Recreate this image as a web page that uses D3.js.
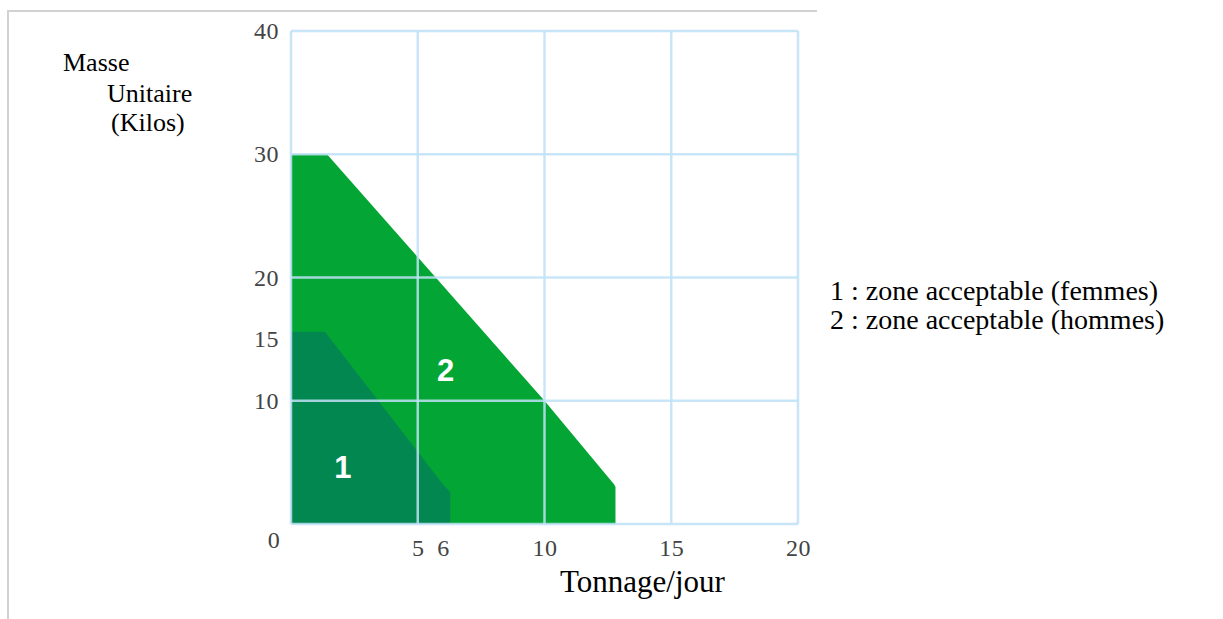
<!DOCTYPE html>
<html>
<head>
<meta charset="utf-8">
<script src="https://cdn.jsdelivr.net/npm/d3@7"></script>
<style>
  body { margin: 0; background: #fff; }
  svg { display: block; }
  .tick text { font-family: "Liberation Serif", serif; font-size: 24px; fill: #444; letter-spacing: 0.5px; }
  .title { font-family: "Liberation Serif", serif; fill: #000; }
  .zone-num { font-family: "Liberation Sans", Arial, sans-serif; font-weight: bold; font-size: 31px; fill: #fff; }
</style>
</head>
<body>
<svg width="1223" height="619"></svg>
<script>
// zones (tonnage/jour, masse unitaire en kilos)
var zoneHommes = [[0, 0], [0, 30], [1.42, 30], [10, 10], [12.75, 3.2], [12.8, 3], [12.8, 0]];
var zoneFemmes = [[0, 0], [0, 15.6], [1.34, 15.6], [6.0, 3.2], [6.28, 2.6], [6.28, 0]];

var xTicks = [5, 6, 10, 15, 20];
var yTicks = [10, 15, 20, 30, 40];
var xGrid = [0, 5, 10, 15, 20];
var yGrid = [0, 10, 20, 30, 40];

var zoneLabels = [
    { text: "2", x: 6.1, y: 12.5 },
    { text: "1", x: 2.05, y: 4.6 }
];
var legendLines = ["1 : zone acceptable (femmes)", "2 : zone acceptable (hommes)"];

var svg = d3.select("svg"),
    width = +svg.attr("width"),
    height = +svg.attr("height");

var x = d3.scaleLinear().domain([0, 20]).range([291, 798]);
var y = d3.scaleLinear().domain([0, 40]).range([524, 31]);

// grey page frame (top and left edges only)
svg.append("path")
    .attr("d", "M8,619V11H817")
    .attr("fill", "none")
    .attr("stroke", "#d2d2d2")
    .attr("stroke-width", 2);

var line = d3.line()
    .x(function (d) { return x(d[0]); })
    .y(function (d) { return y(d[1]); });

svg.append("path")
    .datum(zoneHommes)
    .attr("d", function (d) { return line(d) + "Z"; })
    .attr("fill", "#03a634");

svg.append("path")
    .datum(zoneFemmes)
    .attr("d", function (d) { return line(d) + "Z"; })
    .attr("fill", "#038751");

// light blue grid, drawn over the zones
var grid = svg.append("g")
    .attr("stroke", "#bfe2f7")
    .attr("stroke-width", 2.5)
    .attr("stroke-opacity", 0.85);

grid.selectAll(".v")
    .data(xGrid)
    .enter().append("line")
    .attr("x1", function (d) { return x(d); })
    .attr("x2", function (d) { return x(d); })
    .attr("y1", y(0))
    .attr("y2", y(40));

grid.selectAll(".h")
    .data(yGrid)
    .enter().append("line")
    .attr("y1", function (d) { return y(d); })
    .attr("y2", function (d) { return y(d); })
    .attr("x1", x(0))
    .attr("x2", x(20));

svg.selectAll(".zone-num")
    .data(zoneLabels)
    .enter().append("text")
    .attr("class", "zone-num")
    .attr("x", function (d) { return x(d.x); })
    .attr("y", function (d) { return y(d.y); })
    .attr("text-anchor", "middle")
    .attr("dy", "0.36em")
    .text(function (d) { return d.text; });

// axes: labels only
var xAxis = svg.append("g")
    .attr("transform", "translate(0," + y(0) + ")")
    .call(d3.axisBottom(x).tickValues(xTicks).tickSize(0).tickPadding(15).tickFormat(d3.format("d")));
xAxis.select(".domain").remove();

var yAxis = svg.append("g")
    .attr("transform", "translate(" + x(0) + ",0)")
    .call(d3.axisLeft(y).tickValues(yTicks).tickSize(0).tickPadding(12).tickFormat(d3.format("d")));
yAxis.select(".domain").remove();

// shared origin label
svg.append("g").attr("class", "tick")
    .append("text")
    .attr("x", x(0) - 17)
    .attr("y", y(0) + 24)
    .attr("text-anchor", "middle")
    .text("0");

svg.append("text").attr("class", "title")
    .attr("x", 63).attr("y", 71)
    .style("font-size", "26px")
    .text("Masse");
svg.append("text").attr("class", "title")
    .attr("x", 107).attr("y", 102)
    .style("font-size", "26px")
    .text("Unitaire");
svg.append("text").attr("class", "title")
    .attr("x", 111).attr("y", 131)
    .style("font-size", "26px")
    .text("(Kilos)");

svg.append("text").attr("class", "title")
    .attr("x", 560).attr("y", 592)
    .style("font-size", "31px")
    .text("Tonnage/jour");

svg.selectAll(".legend")
    .data(legendLines)
    .enter().append("text")
    .attr("class", "title legend")
    .attr("x", 830)
    .attr("y", function (d, i) { return 300 + i * 29; })
    .style("font-size", "28px")
    .text(function (d) { return d; });
</script>
</body>
</html>
